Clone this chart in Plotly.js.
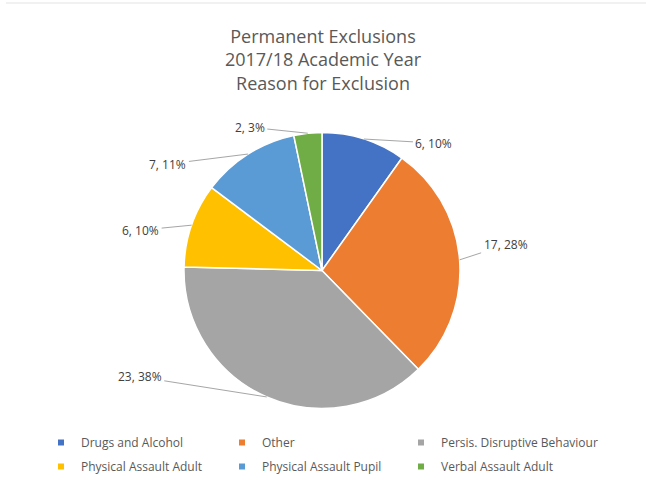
<!DOCTYPE html>
<html>
<head>
<meta charset="utf-8">
<script src="https://cdn.plot.ly/plotly-3.0.1.min.js"></script>
<style>html,body{margin:0;padding:0;background:#fff;}#chart{width:646px;height:482px;}</style>
</head>
<body>
<div id="chart"></div>
<script>
// ---- data ----
const categories = ["Drugs and Alcohol", "Other", "Persis. Disruptive Behaviour", "Physical Assault Adult", "Physical Assault Pupil", "Verbal Assault Adult"];
const counts = [6, 17, 23, 6, 7, 2];
const titleLines = ["Permanent Exclusions", "2017/18 Academic Year", "Reason for Exclusion"];

// ---- style ----
const colors = ["#4472C4", "#ED7D31", "#A5A5A5", "#FFC000", "#5B9BD5", "#70AD47"];
const W = 646, H = 482;
const cx = 322, cy = 270.5, R = 138;           // pie centre / radius in px
// label text offsets from the slice edge point (px)
const labelOffsets = [[70, 4], [46, -15], [-127, -20], [-51, 5], [-80, 10], [-58, -6]];
const legendNames = ["legend", "legend2", "legend3"];   // one legend per column
const legendColX = [41, 222, 401];                       // px

const total = counts.reduce((a, b) => a + b, 0);

const pie = {
  type: "pie",
  values: counts,
  labels: categories,
  sort: false,
  direction: "clockwise",
  rotation: 0,
  textinfo: "none",
  showlegend: false,
  hoverinfo: "label+value+percent",
  marker: {colors: colors, line: {color: "#FFFFFF", width: 1.5}},
  domain: {x: [(cx - R) / W, (cx + R) / W], y: [1 - (cy + R) / H, 1 - (cy - R) / H]}
};

// legend proxies (small square markers), arranged in 3 columns x 2 rows
const legendTraces = categories.map((c, i) => ({
  type: "scatter", mode: "markers", x: [null], y: [null], name: c,
  marker: {symbol: "square", size: 6, color: colors[i]},
  legend: legendNames[i % 3],
  legendgroup: "g" + i,
  hoverinfo: "skip"
}));

// data labels with leader lines
let cum = 0;
const annotations = counts.map((v, i) => {
  const mid = (cum + v / 2) / total * 2 * Math.PI;
  cum += v;
  const px = cx + R * Math.sin(mid);
  const py = cy - R * Math.cos(mid);
  const pct = Math.round(v / total * 100);
  return {
    xref: "paper", yref: "paper",
    x: px / W, y: 1 - py / H,
    text: v + ", " + pct + "%",
    showarrow: true, arrowhead: 0, arrowwidth: 1, arrowcolor: "#A6A6A6",
    ax: labelOffsets[i][0], ay: labelOffsets[i][1],
    standoff: 0, startstandoff: 1,
    font: {family: "Open Sans", size: 12, color: "#404040"}
  };
});

const legendCommon = {
  orientation: "v", xanchor: "left", yanchor: "top",
  traceorder: "grouped", tracegroupgap: 5,
  font: {family: "Open Sans", size: 12, color: "#595959"},
  bgcolor: "rgba(0,0,0,0)", borderwidth: 0, itemclick: false
};

const layout = {
  width: W, height: H,
  margin: {l: 0, r: 0, t: 0, b: 0, autoexpand: false},
  paper_bgcolor: "#FFFFFF", plot_bgcolor: "#FFFFFF",
  font: {family: "Open Sans", color: "#595959"},
  title: {
    text: titleLines.join("<br>"),
    x: 0.5, xanchor: "center", xref: "paper",
    y: 1 - 43 / H, yanchor: "middle", yref: "container",
    font: {family: "Open Sans", size: 18, color: "#595959"}
  },
  xaxis: {visible: false}, yaxis: {visible: false},
  annotations: annotations,
  shapes: [{type: "line", xref: "paper", yref: "paper", x0: 6 / W, x1: 1, y0: 1 - 3 / H, y1: 1 - 3 / H,
            line: {color: "#E3E3E3", width: 1}}]
};
legendNames.forEach((n, k) => {
  layout[n] = Object.assign({x: legendColX[k] / W, y: 1 - 428 / H}, legendCommon);
});

Plotly.newPlot("chart", [pie].concat(legendTraces), layout, {displayModeBar: false, staticPlot: true});
</script>
</body>
</html>
